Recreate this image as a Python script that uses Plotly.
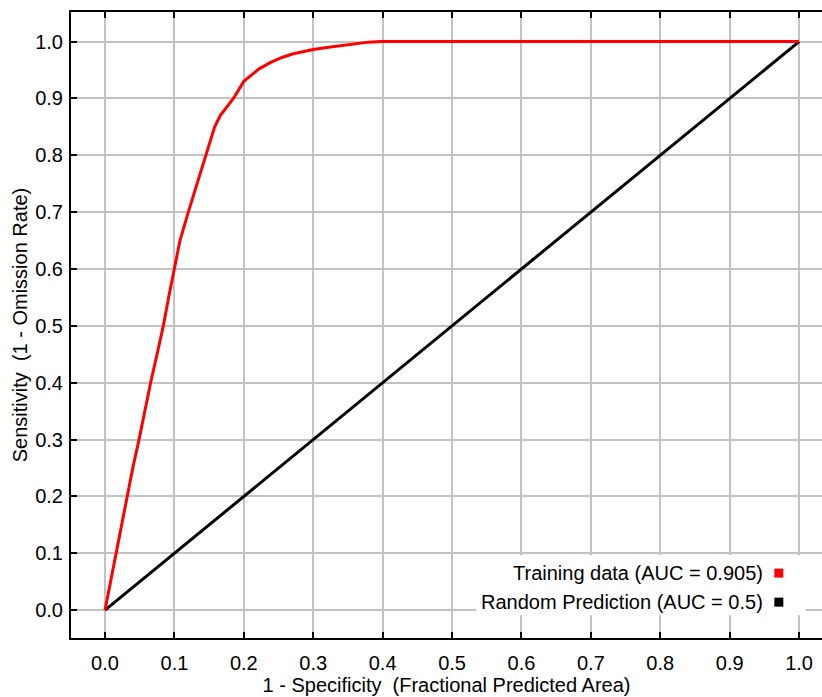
import plotly.graph_objects as go

# ROC curve for training data
train_fpr = [0.0, 0.004, 0.008, 0.0155, 0.024, 0.032, 0.040, 0.049, 0.057, 0.0657, 0.075,
             0.0840, 0.092, 0.100, 0.108, 0.120, 0.1327, 0.146, 0.158, 0.166, 0.175,
             0.185, 0.200, 0.210, 0.222, 0.238, 0.255, 0.270, 0.284, 0.300, 0.322,
             0.340, 0.360, 0.380, 0.397, 1.0]
train_tpr = [0.0, 0.025, 0.053, 0.100, 0.150, 0.200, 0.250, 0.300, 0.350, 0.400, 0.450,
             0.500, 0.552, 0.600, 0.650, 0.700, 0.750, 0.800, 0.850, 0.870, 0.885,
             0.900, 0.930, 0.940, 0.952, 0.963, 0.972, 0.978, 0.982, 0.986, 0.990,
             0.993, 0.996, 0.999, 1.0, 1.0]

random_fpr = [0.0, 1.0]
random_tpr = [0.0, 1.0]

series_names = ["Training data (AUC = 0.905)", "Random Prediction (AUC = 0.5)"]
series_colors = ["#ff0000", "#000000"]

tick_vals = [round(i * 0.1, 1) for i in range(11)]
tick_text = [f"{v:.1f}" for v in tick_vals]

x_title = "1 - Specificity\u00a0\u00a0(Fractional Predicted Area)"
y_title = "Sensitivity\u00a0\u00a0(1 - Omission Rate)"

FONT = "Liberation Sans, Arial, sans-serif"

fig = go.Figure()
fig.add_trace(go.Scatter(x=random_fpr, y=random_tpr, mode="lines",
                         line=dict(color=series_colors[1], width=3),
                         name=series_names[1], showlegend=False))
fig.add_trace(go.Scatter(x=train_fpr, y=train_tpr, mode="lines",
                         line=dict(color=series_colors[0], width=3),
                         name=series_names[0], showlegend=False))

axis_common = dict(
    tickmode="array", tickvals=tick_vals, ticktext=tick_text,
    showgrid=True, gridcolor="#c2c2c2", gridwidth=2,
    showline=True, linecolor="#000000", linewidth=2,
    ticks="inside", ticklen=6, tickwidth=2, tickcolor="#000000",
    zeroline=False, automargin=False,
    tickfont=dict(family=FONT, size=20, color="#000000"),
)

fig.update_layout(
    width=822, height=697,
    margin=dict(l=71, r=0, t=12, b=59),
    paper_bgcolor="white", plot_bgcolor="white",
    font=dict(family=FONT, color="#000000"),
    showlegend=False,
    xaxis=dict(range=[-0.049, 1.033], mirror="ticks",
               title=dict(text=x_title, font=dict(family=FONT, size=20), standoff=5),
               ticklabelstandoff=6,
               **axis_common),
    yaxis=dict(range=[-0.049, 1.052],
               title=dict(text=y_title, font=dict(family=FONT, size=20), standoff=2),
               ticklabelstandoff=2,
               **axis_common),
)

# legend box (white background covering grid)
fig.add_shape(type="rect", xref="x", yref="y", x0=0.535, x1=1.0097, y0=-0.0088, y1=0.0968,
              fillcolor="white", line=dict(width=0), layer="above")

legend_y = [0.0651, 0.0141]
for name, color, yy in zip(series_names, series_colors, legend_y):
    fig.add_annotation(xref="x", yref="y", x=0.9505, y=yy, text=name, showarrow=False,
                       xanchor="right", yanchor="middle",
                       font=dict(family=FONT, size=20, color="#000000"))
    fig.add_shape(type="rect", xref="x", yref="y", xsizemode="pixel", ysizemode="pixel",
                  xanchor=0.9708, yanchor=yy, x0=-4.5, x1=4.5, y0=-4.5, y1=4.5,
                  fillcolor=color, line=dict(width=0), layer="above")

fig.write_html("out.html", config={"displayModeBar": False},
               post_script="document.body.style.margin='0';document.body.style.overflow='hidden';")
